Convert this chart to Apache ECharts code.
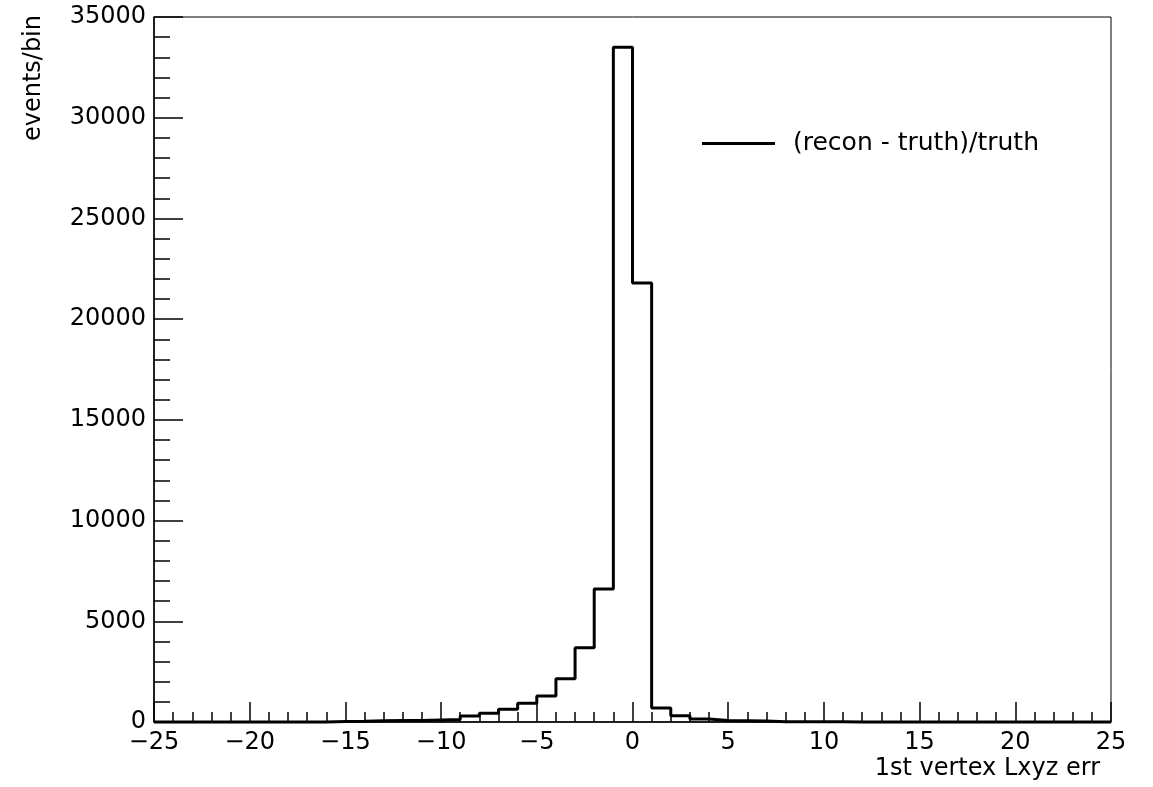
<!DOCTYPE html>
<html>
<head>
<meta charset="utf-8">
<title>1st vertex Lxyz err</title>
<script src="https://cdn.jsdelivr.net/npm/echarts@6.0.0/dist/echarts.min.js"></script>
<style>
    html, body { margin: 0; padding: 0; background: #fff; }
    #main { width: 1153px; height: 787px; }
</style>
</head>
<body>
<div id="main"></div>
<script>
// histogram binning: 50 bins of width 1 from -25 to 25
const binLow = -25;
const binWidth = 1;
const counts = [
    5, 5, 5, 5, 5, 5, 5, 5, 5,          // -25 .. -17
    30, 40, 60, 70, 70, 100, 130,        // -16 .. -10
    300, 430, 630, 930, 1290, 2150,      // -9 .. -4
    3680, 6600, 33500, 21800,            // -3 .. 0
    700, 310, 150, 70, 60, 50,           // 1 .. 6
    10, 10, 8, 8, 6, 6, 5, 5, 5, 5, 4, 4, 4, 3, 3, 3, 3, 3   // 7 .. 24
];
const xRange = [-25, 25];
const yRange = [0, 35000];
const seriesName = '(recon - truth)/truth';
const xTitle = '1st vertex Lxyz err';
const yTitle = 'events/bin';

// outline points at bin low edges, plus the last upper edge
const stepData = counts.map((c, i) => [binLow + i * binWidth, c]);
stepData.push([binLow + counts.length * binWidth, counts[counts.length - 1]]);

const fontFamily = '"DejaVu Sans", sans-serif';
const black = '#000';

const chart = echarts.init(document.getElementById('main'));
const option = {
    animation: false,
    backgroundColor: '#fff',
    textStyle: { fontFamily: fontFamily },
    grid: {
        left: 154, right: 42, top: 17, bottom: 65,
        show: true, borderColor: black, borderWidth: 1
    },
    legend: {
        left: 697, top: 126,
        icon: 'rect', itemWidth: 73, itemHeight: 3,
        textStyle: { fontSize: 25, color: black, padding: [0, 0, 0, 13] },
        data: [seriesName]
    },
    xAxis: {
        type: 'value', min: xRange[0], max: xRange[1], interval: 5,
        axisLine: { show: true, onZero: false, lineStyle: { color: black, width: 1.5 } },
        axisTick: { show: true, inside: true, length: 20, lineStyle: { color: black, width: 1.5 } },
        minorTick: { show: true, splitNumber: 5, length: 10, lineStyle: { color: black, width: 1.5 } },
        splitLine: { show: false },
        axisLabel: {
            color: black, fontSize: 24, margin: 9,
            formatter: v => String(v).replace('-', '\u2212')
        }
    },
    yAxis: {
        type: 'value', min: yRange[0], max: yRange[1], interval: 5000,
        axisLine: { show: true, onZero: false, lineStyle: { color: black, width: 1.5 } },
        axisTick: { show: true, inside: true, length: 29, lineStyle: { color: black, width: 1.5 } },
        minorTick: { show: true, splitNumber: 5, length: 16, lineStyle: { color: black, width: 1.5 } },
        splitLine: { show: false },
        axisLabel: {
            color: black, fontSize: 24, margin: 8,
            padding: [6, 0, 0, 0],
            formatter: v => String(v)
        }
    },
    series: [{
        name: seriesName,
        type: 'line',
        step: 'end',
        data: stepData,
        showSymbol: false,
        symbol: 'none',
        clip: false,
        lineStyle: { color: black, width: 3 },
        itemStyle: { color: black }
    }],
    graphic: [
        {
            type: 'text', x: 34, y: 15, rotation: Math.PI / 2,
            style: {
                text: yTitle, fill: black, font: '24px ' + fontFamily,
                textAlign: 'right', textVerticalAlign: 'middle'
            }
        },
        {
            type: 'text', x: 1100, y: 769,
            style: {
                text: xTitle, fill: black, font: '24px ' + fontFamily,
                textAlign: 'right', textVerticalAlign: 'middle'
            }
        }
    ]
};
chart.setOption(option);
window.addEventListener('resize', function () {
    chart.resize();
});
</script>
</body>
</html>
